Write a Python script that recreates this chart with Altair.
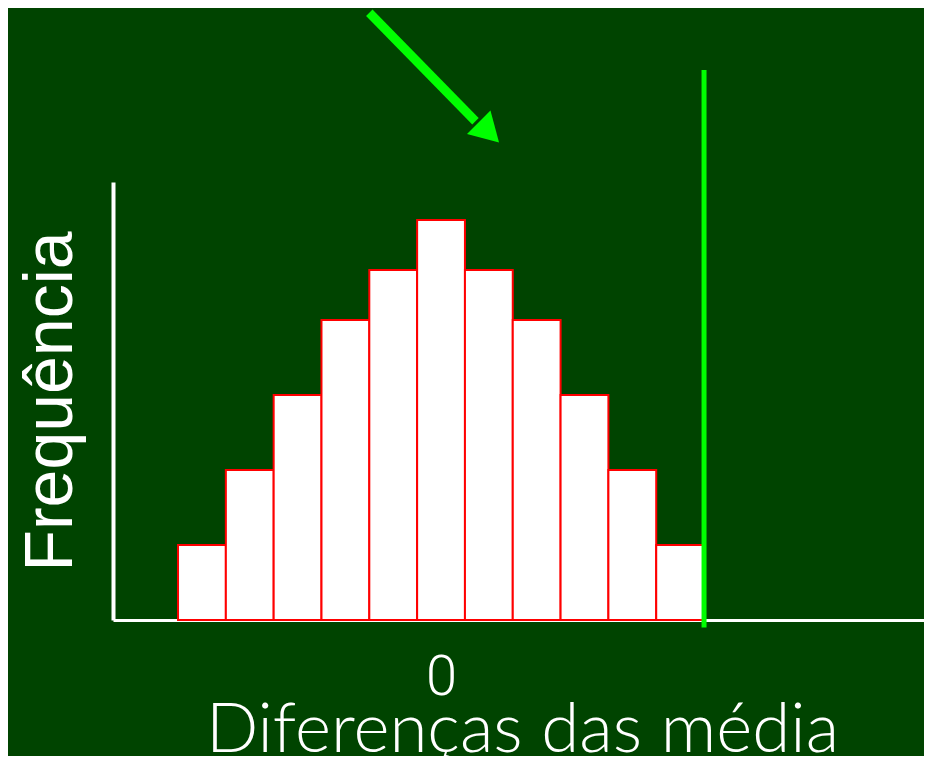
import altair as alt
import pandas as pd

# Histogram data (bin edges in "difference" units, counts)
bin_starts = [-5.5, -4.5, -3.5, -2.5, -1.5, -0.5, 0.5, 1.5, 2.5, 3.5, 4.5]
bin_ends = [-4.5, -3.5, -2.5, -1.5, -0.5, 0.5, 1.5, 2.5, 3.5, 4.5, 5.5]
counts = [3, 6, 9, 12, 14, 16, 14, 12, 9, 6, 3]

# Observed difference (green vertical line) and its vertical extent
observed = [5.5]
line_low = [-0.3]
line_high = [22.0]

# Arrow annotation (shaft start/end, head centre)
arrow_x = [-1.50]
arrow_y = [24.29]
arrow_x2 = [0.72]
arrow_y2 = [19.95]
head_x = [0.93]
head_y = [19.64]

x_domain = [-6.86, 10.10]
y_domain = [0, 17.52]

BG = "#004400"
GREEN = "#00ff00"
FONT = "Liberation Sans"
THIN = "Lato"

bars_df = pd.DataFrame({"start": bin_starts, "end": bin_ends, "count": counts})
line_df = pd.DataFrame({"x": observed, "lo": line_low, "hi": line_high})
arrow_df = pd.DataFrame({"x": arrow_x, "y": arrow_y, "x2": arrow_x2, "y2": arrow_y2})
head_df = pd.DataFrame({"x": head_x, "y": head_y})

xscale = alt.Scale(domain=x_domain, nice=False, zero=False)
yscale = alt.Scale(domain=y_domain, nice=False, zero=False)

bars = alt.Chart(bars_df).mark_bar(
    fill="white", stroke="#ff0000", strokeWidth=2, opacity=1
).encode(
    x=alt.X("start:Q", scale=xscale,
            axis=alt.Axis(values=[0], grid=False, ticks=False, tickSize=0,
                          labelFontSize=56, labelColor="white", labelFont="Roboto",
                          labelFontWeight=300,
                          labelBaseline="alphabetic", labelPadding=74,
                          labelFlush=False,
                          domainColor="white", domainWidth=3,
                          title="Diferenças das média", titleFont=THIN,
                          titleFontSize=69, titleFontWeight=300,
                          titleColor="white", titleAlign="center",
                          titleAnchor="middle",
                          titleBaseline="alphabetic", titleX=409, titleY=131)),
    x2="end:Q",
    y=alt.Y("count:Q", scale=yscale,
            axis=alt.Axis(labels=False, ticks=False, grid=False,
                          domainColor="white", domainWidth=4,
                          title="Frequência", titleFont=FONT,
                          titleFontSize=68, titleFontWeight="normal",
                          titleColor="white", titleAngle=270,
                          titleAlign="center", titleBaseline="alphabetic",
                          titleX=-42, titleY=219)),
    y2=alt.Y2(datum=0),
)

vline = alt.Chart(line_df).mark_rule(color=GREEN, strokeWidth=5).encode(
    x=alt.X("x:Q", scale=xscale),
    y=alt.Y("lo:Q", scale=yscale),
    y2="hi:Q",
)

shaft = alt.Chart(arrow_df).mark_rule(color=GREEN, strokeWidth=9, strokeCap="butt").encode(
    x=alt.X("x:Q", scale=xscale),
    y=alt.Y("y:Q", scale=yscale),
    x2="x2:Q",
    y2="y2:Q",
)

head = alt.Chart(head_df).mark_point(
    shape="triangle", filled=True, color=GREEN, opacity=1, size=1100, angle=135
).encode(
    x=alt.X("x:Q", scale=xscale),
    y=alt.Y("y:Q", scale=yscale),
)

chart = alt.layer(bars, vline, shaft, head).properties(
    width=811,
    height=438,
    autosize=alt.AutoSizeParams(type="none"),
    padding={"left": 105, "top": 174, "right": 0, "bottom": 136},
    background=BG,
).configure_view(stroke=None)

chart.save("out.html", embed_options={"renderer": "svg", "actions": False})
